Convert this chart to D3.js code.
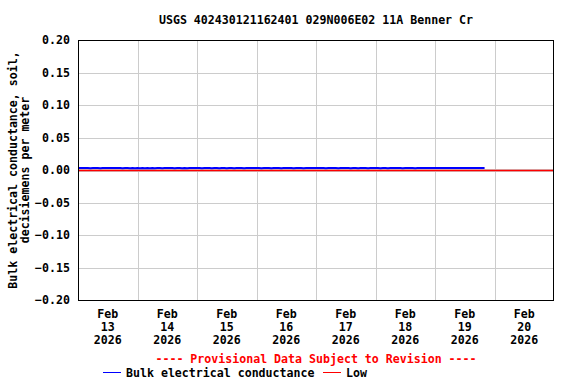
<!DOCTYPE html>
<html><head><meta charset="utf-8">
<script src="https://cdn.jsdelivr.net/npm/d3@7"></script>
<style>body{margin:0;background:#fff}svg text{font-family:"DejaVu Sans Mono",monospace;font-weight:bold;font-size:11.6px}</style>
</head><body>
<svg id="c" width="576" height="384"></svg>
<script>
const title = "USGS 402430121162401 029N006E02 11A Benner Cr";
const yLabel = ["Bulk electrical conductance, soil,", "decisiemens per meter"];
const yTicks = [0.20, 0.15, 0.10, 0.05, 0.00, -0.05, -0.10, -0.15, -0.20];
const xDays = ["2026-02-13","2026-02-14","2026-02-15","2026-02-16","2026-02-17","2026-02-18","2026-02-19","2026-02-20","2026-02-21"];
const seriesStart = "2026-02-13T00:00";
// hourly values, decisiemens per meter
const conductance = [
0.0030,0.0030,0.0030,0.0030,0.0030,0.0028,0.0030,0.0030,0.0030,0.0028,0.0030,0.0030,0.0030,0.0030,0.0030,0.0030,0.0030,0.0030,0.0028,0.0030,0.0030,0.0028,0.0030,0.0028,
0.0030,0.0028,0.0030,0.0028,0.0030,0.0028,0.0030,0.0028,0.0030,0.0030,0.0028,0.0030,0.0030,0.0030,0.0030,0.0028,0.0030,0.0030,0.0028,0.0030,0.0028,0.0030,0.0030,0.0030,
0.0030,0.0030,0.0028,0.0030,0.0030,0.0030,0.0028,0.0030,0.0030,0.0028,0.0030,0.0030,0.0028,0.0030,0.0030,0.0028,0.0030,0.0030,0.0030,0.0028,0.0030,0.0030,0.0030,0.0030,
0.0030,0.0030,0.0028,0.0030,0.0030,0.0030,0.0028,0.0030,0.0030,0.0030,0.0028,0.0030,0.0030,0.0030,0.0030,0.0028,0.0030,0.0030,0.0030,0.0028,0.0030,0.0030,0.0030,0.0030,
0.0030,0.0030,0.0030,0.0030,0.0028,0.0030,0.0030,0.0030,0.0030,0.0028,0.0030,0.0030,0.0030,0.0030,0.0028,0.0030,0.0030,0.0028,0.0030,0.0030,0.0030,0.0028,0.0030,0.0030,
0.0030,0.0030,0.0028,0.0030,0.0030,0.0028,0.0030,0.0030,0.0030,0.0030,0.0030,0.0028,0.0030,0.0030,0.0030,0.0030,0.0028,0.0030,0.0030,0.0030,0.0030,0.0030,0.0030,0.0030,
0.0030,0.0030,0.0030,0.0030,0.0030,0.0030,0.0030,0.0030,0.0030,0.0030,0.0030,0.0030,0.0030,0.0030,0.0030,0.0030,0.0030,0.0030,0.0030,0.0030,0.0030
];
const lowValue = 0.0;

const svg = d3.select("#c");
const m = {l:78, r:554, t:40, b:300};
const parse = d3.isoParse;
const x = d3.scaleTime().domain([parse(xDays[0]+"T00:00"), parse(xDays[xDays.length-1]+"T00:00")]).range([m.l, m.r]);
const y = d3.scaleLinear().domain([-0.2, 0.2]).range([m.b, m.t]);

// grid
const g = svg.append("g");
g.selectAll("line.v").data(xDays.slice(1,-1)).join("line")
  .attr("x1", d=>Math.round(x(parse(d+"T00:00")))+0.5).attr("x2", d=>Math.round(x(parse(d+"T00:00")))+0.5)
  .attr("y1", m.t).attr("y2", m.b).attr("stroke", "#cccccc");
g.selectAll("line.h").data(yTicks.slice(1,-1)).join("line")
  .attr("y1", d=>Math.round(y(d))+0.5).attr("y2", d=>Math.round(y(d))+0.5)
  .attr("x1", m.l).attr("x2", m.r).attr("stroke", "#cccccc").attr("stroke-width", d=>d===0?3:1);

// low line
svg.append("line").attr("x1", m.l).attr("x2", m.r).attr("y1", Math.round(y(lowValue))+0.5).attr("y2", Math.round(y(lowValue))+0.5)
  .attr("stroke", "#ff0000").attr("stroke-width", 1.5);

// data
const t0 = parse(seriesStart);
const pts = conductance.map((v,i)=>({t:new Date(+t0 + i*3600e3), v}));
svg.append("path").datum(pts)
  .attr("d", d3.line().x(d=>x(d.t)).y(d=>y(d.v)))
  .attr("fill","none").attr("stroke","#0000ff").attr("stroke-width",2);

// frame
svg.append("rect").attr("x", m.l+0.5).attr("y", m.t+0.5).attr("width", m.r-m.l-1).attr("height", m.b-m.t)
  .attr("fill","none").attr("stroke","#000");

// y axis labels
svg.selectAll("text.yt").data(yTicks).join("text")
  .attr("x", 70).attr("y", d=>y(d)+4).attr("text-anchor","end").text(d=>d3.format(".2f")(d));

// x axis labels
const months = ["Jan","Feb","Mar","Apr","May","Jun","Jul","Aug","Sep","Oct","Nov","Dec"];
xDays.slice(0,-1).forEach(d=>{
  const dt = parse(d+"T12:00");
  const cx = x(dt);
  const t = svg.append("text").attr("text-anchor","middle");
  [months[dt.getMonth()], String(dt.getDate()), String(dt.getFullYear())].forEach((s,i)=>{
    t.append("tspan").attr("x", cx).attr("y", 318 + i*13).text(s);
  });
});

// y label
const yl = svg.append("text").attr("transform","translate(17,170) rotate(-90)").attr("text-anchor","middle");
yLabel.forEach((s,i)=> yl.append("tspan").attr("x",0).attr("y", i*12).text(s));

// title
svg.append("text").attr("x", 316).attr("y", 24).attr("text-anchor","middle").text(title);

// provisional
svg.append("text").attr("x", 316).attr("y", 363).attr("text-anchor","middle").attr("fill","#ff0000")
  .text("---- Provisional Data Subject to Revision ----");

// legend
const legend = [{name:"Bulk electrical conductance", color:"#0000ff", x:103},{name:"Low", color:"#ff0000", x:323}];
legend.forEach(l=>{
  svg.append("line").attr("x1", l.x).attr("x2", l.x+18).attr("y1", 372.5).attr("y2", 372.5).attr("stroke", l.color);
  svg.append("text").attr("x", l.x+23).attr("y", 377).text(l.name);
});
</script>
</body></html>
